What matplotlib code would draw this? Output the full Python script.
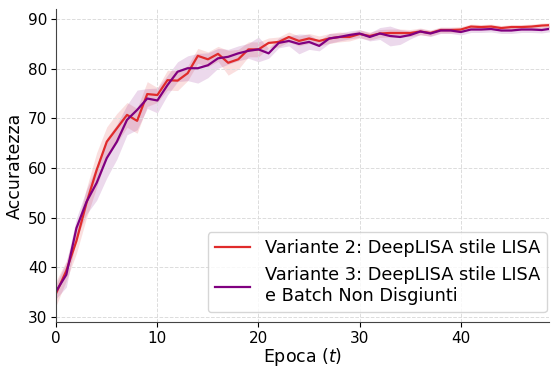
import numpy as np
import matplotlib
matplotlib.use("Agg")
import matplotlib.pyplot as plt

# Accuratezza media per epoca (con deviazione standard) delle due varianti
epoche = np.arange(50)

acc_v2 = [34.8, 39.3, 45.3, 53.0, 59.6, 65.3, 68.0, 70.7, 69.5, 74.9,
          74.7, 77.7, 77.6, 79.1, 82.6, 81.9, 83.0, 81.2, 81.9, 83.9,
          83.9, 85.2, 85.4, 86.4, 85.6, 86.1, 85.6, 86.1, 86.4, 86.4,
          87.0, 86.6, 87.1, 87.2, 87.2, 87.2, 87.5, 87.2, 87.8, 87.8,
          87.9, 88.5, 88.4, 88.5, 88.2, 88.4, 88.4, 88.5, 88.7, 88.8]
std_v2 = [2.5, 2.0, 2.5, 3.0, 3.5, 3.0, 3.0, 2.5, 2.5, 2.5,
          1.5, 2.0, 2.0, 1.5, 1.5, 1.5, 1.5, 2.5, 2.0, 1.5,
          1.5, 1.0, 1.0, 1.0, 1.0, 1.0, 1.0, 1.0, 1.0, 0.8,
          0.8, 0.8, 0.8, 0.8, 0.8, 0.7, 0.7, 0.6, 0.6, 0.6,
          0.6, 0.5, 0.5, 0.5, 0.5, 0.5, 0.5, 0.5, 0.5, 0.5]

acc_v3 = [35.2, 38.5, 47.9, 53.2, 57.0, 62.0, 65.3, 69.7, 71.7, 74.0,
          73.6, 76.7, 79.4, 80.1, 80.1, 80.7, 82.1, 82.4, 83.1, 83.6,
          83.9, 83.1, 85.2, 85.6, 85.0, 85.4, 84.6, 86.1, 86.4, 86.8,
          87.1, 86.4, 87.1, 86.6, 86.4, 86.8, 87.5, 87.1, 87.7, 87.7,
          87.4, 87.9, 87.9, 88.0, 87.7, 87.7, 87.9, 87.9, 87.8, 88.1]
std_v3 = [1.5, 2.5, 2.0, 2.5, 3.5, 4.0, 3.5, 3.0, 4.0, 2.0,
          2.5, 2.0, 2.0, 2.5, 3.0, 2.5, 2.0, 1.5, 1.5, 1.5,
          2.5, 1.0, 1.0, 1.0, 2.0, 1.5, 1.0, 1.0, 0.8, 0.8,
          0.8, 0.8, 1.2, 2.0, 1.5, 0.8, 0.6, 0.6, 0.6, 0.6,
          0.6, 0.6, 0.6, 0.6, 0.6, 0.6, 0.6, 0.6, 0.6, 0.6]

etichetta_v2 = "Variante 2: DeepLISA stile LISA"
etichetta_v3 = "Variante 3: DeepLISA stile LISA\ne Batch Non Disgiunti"

fig = plt.figure(figsize=(5.51, 3.67), dpi=100)
ax = fig.add_axes([0.102, 0.123, 0.894, 0.852])

serie = [
    (acc_v2, std_v2, "#e02b2b", etichetta_v2),
    (acc_v3, std_v3, "#800080", etichetta_v3),
]
for media, dev, colore, etichetta in serie:
    media = np.array(media)
    dev = np.array(dev)
    ax.plot(epoche, media, color=colore, lw=1.6, label=etichetta)
    ax.fill_between(epoche, media - dev, media + dev, color=colore,
                    alpha=0.15, lw=0)

ax.set_xlim(0, 48.7)
ax.set_ylim(29, 92)
ax.set_xticks([0, 10, 20, 30, 40])
ax.set_yticks([30, 40, 50, 60, 70, 80, 90])
ax.tick_params(labelsize=11, pad=3)
ax.set_xlabel("Epoca ($t$)", fontsize=12.5, labelpad=0)
ax.set_ylabel("Accuratezza", fontsize=12.5, labelpad=3)
ax.grid(True, linestyle="--", color="#dcdcdc", lw=0.7)
ax.spines["top"].set_visible(False)
ax.spines["right"].set_visible(False)
ax.spines["left"].set_color("#444444")
ax.spines["bottom"].set_color("#444444")

ax.legend(loc="lower right", fontsize=12.8, handlelength=2.0,
          bbox_to_anchor=(1.0, 0.025), borderaxespad=0.1)

plt.savefig("out.png", dpi=100)
plt.close()
